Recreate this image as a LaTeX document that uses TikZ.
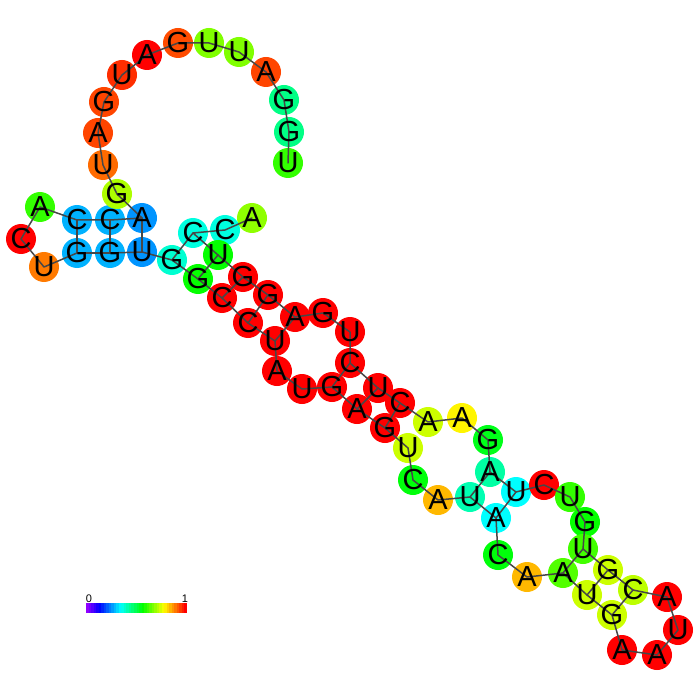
\PassOptionsToPackage{rgb}{xcolor}
\documentclass[tikz,border=0pt]{standalone}
\usepackage{fontspec}
\setmainfont{Liberation Sans}
\usetikzlibrary{positioning}
\definecolor{bbone}{gray}{0.28}
\tikzset{
  base/.style={circle,minimum size=30pt,inner sep=0pt},
  letter/.style={font=\fontsize{29}{29}\selectfont,inner sep=0pt},
  bb/.style={line width=1.5pt,bbone,line join=round,line cap=round},
  pr/.style={line width=1.5pt,bbone,line cap=round},
  lbl/.style={font=\fontsize{11}{11}\selectfont,inner sep=0pt,anchor=base},
}
% x / y / base / hue
\def\seqdata{252/218/A/0.24, 225/230/C/0.48, 193/233/C/0.48, 218/255/U/0.33,
  243/277/G/0.0, 268/295/G/0.0, 295/317/A/0.0, 323/313/G/0.0, 350/332/U/0.0,
  350/363/C/0.0, 378/388/U/0.0, 400/403/C/0.0, 428/422/A/0.2, 462/418/A/0.16,
  488/440/G/0.35, 490/472/A/0.44, 516/492/U/0.5, 544/485/C/0.0, 570/497/U/0.3,
  585/522/G/0.33, 583/549/U/0.29, 608/570/G/0.2, 633/590/C/0.21, 667/597/A/0.0,
  678/630/U/0.0, 657/655/A/0.0, 622/650/A/0.0, 612/615/G/0.2, 587/595/U/0.2,
  563/573/A/0.28, 527/577/A/0.12, 498/555/C/0.34, 496/518/A/0.5, 470/497/U/0.45,
  438/500/A/0.12, 413/480/C/0.34, 408/448/U/0.2, 385/428/G/0.0, 357/409/A/0.0,
  332/387/G/0.0, 302/389/U/0.0, 277/371/A/0.0, 275/341/U/0.0, 248/323/C/0.0,
  222/298/C/0.0, 198/279/G/0.33, 172/260/G/0.47, 142/252/U/0.57, 110/253/G/0.55,
  77/253/G/0.55, 44/267/U/0.08, 21/239/C/0.0, 40/207/A/0.3, 77/220/C/0.55,
  110/220/C/0.55, 142/218/A/0.57, 117/194/G/0.22, 103/165/U/0.07, 98/133/A/0.045,
  104/102/G/0.045, 122/75/U/0.03, 147/55/A/0.0, 178/43/G/0.05, 209/43/U/0.25,
  239/52/U/0.25, 266/72/A/0.045, 284/100/G/0.42, 289/132/G/0.42, 288/163/U/0.3}

\begin{document}
\begin{tikzpicture}[x=1pt,y=-1pt]
\useasboundingbox (0,0) rectangle (700,700);

% bases
\foreach \x/\y/\b/\h [count=\i] in \seqdata {
  \definecolor{nc}{hsb}{\h,1,1}
  \node[base,fill=nc] (n\i) at (\x,\y) {};
}

% backbone and pairs
\draw[bb] (n1.center) \foreach \i in {2,...,69} { -- (n\i.center) };
\foreach \a/\b in {3/47,4/46,5/45,6/44,7/43,10/40,11/39,12/38,16/34,17/33,
                   21/30,22/29,23/28,48/56,49/55,50/54}
  \draw[pr] (n\a.center) -- (n\b.center);

\foreach \x/\y/\b/\h [count=\i] in \seqdata
  \node[letter] (l\i) at (n\i) {\b};

% colour bar
\foreach \k in {0,...,39} {
  \pgfmathsetmacro\hh{0.76*(1-\k/39)}
  \definecolor{bc}{hsb}{\hh,1,1}
  \fill[bc] (86+\k*2.525,603) rectangle ++(2.6,10);
}
\node[lbl] (lo) at (89,602) {0};
\node[lbl] (hi) at (185,602) {1};

\end{tikzpicture}
\end{document}
